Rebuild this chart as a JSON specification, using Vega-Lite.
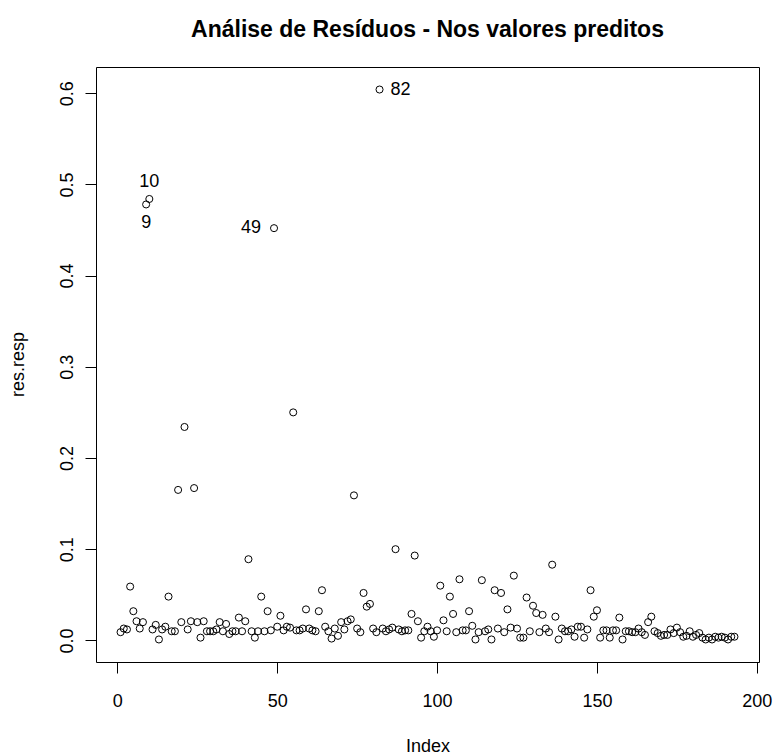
{
  "$schema": "https://vega.github.io/schema/vega-lite/v6.json",
  "width": 663,
  "height": 595,
  "autosize": {"type": "none"},
  "padding": {"left": 96, "top": 67, "right": 14, "bottom": 92},
  "background": "white",
  "title": {
    "text": "Análise de Resíduos - Nos valores preditos",
    "font": "Liberation Sans",
    "fontSize": 23,
    "fontWeight": "bold",
    "color": "black",
    "anchor": "middle",
    "frame": "group",
    "offset": 25
  },
  "config": {
    "view": {"stroke": "black", "strokeWidth": 1},
    "axis": {
      "grid": false,
      "domain": false,
      "tickColor": "black",
      "tickWidth": 1,
      "tickSize": 11,
      "labelFont": "Liberation Sans",
      "labelFontSize": 18,
      "labelColor": "black",
      "titleFont": "Liberation Sans",
      "titleFontSize": 18,
      "titleFontWeight": "normal",
      "titleColor": "black"
    }
  },
  "data": {
    "values": [
      {"idx": 1, "res": 0.009}, {"idx": 2, "res": 0.013}, {"idx": 3, "res": 0.012}, {"idx": 4, "res": 0.059}, {"idx": 5, "res": 0.032},
      {"idx": 6, "res": 0.021}, {"idx": 7, "res": 0.013}, {"idx": 8, "res": 0.020}, {"idx": 9, "res": 0.478}, {"idx": 10, "res": 0.484},
      {"idx": 11, "res": 0.012}, {"idx": 12, "res": 0.017}, {"idx": 13, "res": 0.001}, {"idx": 14, "res": 0.012}, {"idx": 15, "res": 0.015},
      {"idx": 16, "res": 0.048}, {"idx": 17, "res": 0.010}, {"idx": 18, "res": 0.010}, {"idx": 19, "res": 0.165}, {"idx": 20, "res": 0.020},
      {"idx": 21, "res": 0.234}, {"idx": 22, "res": 0.012}, {"idx": 23, "res": 0.021}, {"idx": 24, "res": 0.167}, {"idx": 25, "res": 0.020},
      {"idx": 26, "res": 0.003}, {"idx": 27, "res": 0.021}, {"idx": 28, "res": 0.010}, {"idx": 29, "res": 0.010}, {"idx": 30, "res": 0.010},
      {"idx": 31, "res": 0.012}, {"idx": 32, "res": 0.020}, {"idx": 33, "res": 0.010}, {"idx": 34, "res": 0.018}, {"idx": 35, "res": 0.007},
      {"idx": 36, "res": 0.010}, {"idx": 37, "res": 0.010}, {"idx": 38, "res": 0.025}, {"idx": 39, "res": 0.010}, {"idx": 40, "res": 0.021},
      {"idx": 41, "res": 0.089}, {"idx": 42, "res": 0.010}, {"idx": 43, "res": 0.003}, {"idx": 44, "res": 0.010}, {"idx": 45, "res": 0.048},
      {"idx": 46, "res": 0.010}, {"idx": 47, "res": 0.032}, {"idx": 48, "res": 0.011}, {"idx": 49, "res": 0.452}, {"idx": 50, "res": 0.015},
      {"idx": 51, "res": 0.027}, {"idx": 52, "res": 0.011}, {"idx": 53, "res": 0.015}, {"idx": 54, "res": 0.014}, {"idx": 55, "res": 0.250},
      {"idx": 56, "res": 0.011}, {"idx": 57, "res": 0.011}, {"idx": 58, "res": 0.013}, {"idx": 59, "res": 0.034}, {"idx": 60, "res": 0.013},
      {"idx": 61, "res": 0.011}, {"idx": 62, "res": 0.010}, {"idx": 63, "res": 0.032}, {"idx": 64, "res": 0.055}, {"idx": 65, "res": 0.015},
      {"idx": 66, "res": 0.010}, {"idx": 67, "res": 0.002}, {"idx": 68, "res": 0.013}, {"idx": 69, "res": 0.005}, {"idx": 70, "res": 0.020},
      {"idx": 71, "res": 0.012}, {"idx": 72, "res": 0.021}, {"idx": 73, "res": 0.023}, {"idx": 74, "res": 0.159}, {"idx": 75, "res": 0.013},
      {"idx": 76, "res": 0.009}, {"idx": 77, "res": 0.052}, {"idx": 78, "res": 0.037}, {"idx": 79, "res": 0.040}, {"idx": 80, "res": 0.013},
      {"idx": 81, "res": 0.009}, {"idx": 82, "res": 0.604}, {"idx": 83, "res": 0.013}, {"idx": 84, "res": 0.010}, {"idx": 85, "res": 0.012},
      {"idx": 86, "res": 0.014}, {"idx": 87, "res": 0.100}, {"idx": 88, "res": 0.012}, {"idx": 89, "res": 0.010}, {"idx": 90, "res": 0.011},
      {"idx": 91, "res": 0.011}, {"idx": 92, "res": 0.029}, {"idx": 93, "res": 0.093}, {"idx": 94, "res": 0.021}, {"idx": 95, "res": 0.003},
      {"idx": 96, "res": 0.010}, {"idx": 97, "res": 0.015}, {"idx": 98, "res": 0.010}, {"idx": 99, "res": 0.004}, {"idx": 100, "res": 0.011},
      {"idx": 101, "res": 0.060}, {"idx": 102, "res": 0.022}, {"idx": 103, "res": 0.010}, {"idx": 104, "res": 0.048}, {"idx": 105, "res": 0.029},
      {"idx": 106, "res": 0.009}, {"idx": 107, "res": 0.067}, {"idx": 108, "res": 0.011}, {"idx": 109, "res": 0.011}, {"idx": 110, "res": 0.032},
      {"idx": 111, "res": 0.016}, {"idx": 112, "res": 0.001}, {"idx": 113, "res": 0.009}, {"idx": 114, "res": 0.066}, {"idx": 115, "res": 0.010},
      {"idx": 116, "res": 0.012}, {"idx": 117, "res": 0.001}, {"idx": 118, "res": 0.055}, {"idx": 119, "res": 0.013}, {"idx": 120, "res": 0.052},
      {"idx": 121, "res": 0.009}, {"idx": 122, "res": 0.034}, {"idx": 123, "res": 0.014}, {"idx": 124, "res": 0.071}, {"idx": 125, "res": 0.013},
      {"idx": 126, "res": 0.003}, {"idx": 127, "res": 0.003}, {"idx": 128, "res": 0.047}, {"idx": 129, "res": 0.010}, {"idx": 130, "res": 0.038},
      {"idx": 131, "res": 0.030}, {"idx": 132, "res": 0.009}, {"idx": 133, "res": 0.028}, {"idx": 134, "res": 0.013}, {"idx": 135, "res": 0.009},
      {"idx": 136, "res": 0.083}, {"idx": 137, "res": 0.026}, {"idx": 138, "res": 0.001}, {"idx": 139, "res": 0.013}, {"idx": 140, "res": 0.010},
      {"idx": 141, "res": 0.010}, {"idx": 142, "res": 0.012}, {"idx": 143, "res": 0.004}, {"idx": 144, "res": 0.015}, {"idx": 145, "res": 0.015},
      {"idx": 146, "res": 0.003}, {"idx": 147, "res": 0.012}, {"idx": 148, "res": 0.055}, {"idx": 149, "res": 0.026}, {"idx": 150, "res": 0.033},
      {"idx": 151, "res": 0.003}, {"idx": 152, "res": 0.011}, {"idx": 153, "res": 0.011}, {"idx": 154, "res": 0.003}, {"idx": 155, "res": 0.011},
      {"idx": 156, "res": 0.011}, {"idx": 157, "res": 0.025}, {"idx": 158, "res": 0.001}, {"idx": 159, "res": 0.010}, {"idx": 160, "res": 0.010},
      {"idx": 161, "res": 0.009}, {"idx": 162, "res": 0.009}, {"idx": 163, "res": 0.013}, {"idx": 164, "res": 0.009}, {"idx": 165, "res": 0.006},
      {"idx": 166, "res": 0.020}, {"idx": 167, "res": 0.026}, {"idx": 168, "res": 0.010}, {"idx": 169, "res": 0.008}, {"idx": 170, "res": 0.005},
      {"idx": 171, "res": 0.006}, {"idx": 172, "res": 0.006}, {"idx": 173, "res": 0.012}, {"idx": 174, "res": 0.008}, {"idx": 175, "res": 0.014},
      {"idx": 176, "res": 0.009}, {"idx": 177, "res": 0.004}, {"idx": 178, "res": 0.005}, {"idx": 179, "res": 0.010}, {"idx": 180, "res": 0.004},
      {"idx": 181, "res": 0.006}, {"idx": 182, "res": 0.008}, {"idx": 183, "res": 0.003}, {"idx": 184, "res": 0.001}, {"idx": 185, "res": 0.003},
      {"idx": 186, "res": 0.001}, {"idx": 187, "res": 0.004}, {"idx": 188, "res": 0.003}, {"idx": 189, "res": 0.004}, {"idx": 190, "res": 0.003},
      {"idx": 191, "res": 0.001}, {"idx": 192, "res": 0.004}, {"idx": 193, "res": 0.004}
    ]
  },
  "encoding": {
    "x": {
      "field": "idx",
      "type": "quantitative",
      "scale": {"domain": [-6.68, 200.68], "nice": false, "zero": false},
      "axis": {
        "values": [0, 50, 100, 150, 200],
        "title": "Index",
        "labelPadding": 19,
        "titleY": 75
      }
    },
    "y": {
      "field": "res",
      "type": "quantitative",
      "scale": {"domain": [-0.0237, 0.6287], "nice": false, "zero": false},
      "axis": {
        "values": [0, 0.1, 0.2, 0.3, 0.4, 0.5, 0.6],
        "format": ".1f",
        "title": "res.resp",
        "labelAngle": 270,
        "labelAlign": "center",
        "labelBaseline": "alphabetic",
        "labelPadding": 13,
        "titleAngle": 270,
        "titleAlign": "center",
        "titleBaseline": "alphabetic",
        "titleX": -73,
        "titleY": 297
      }
    }
  },
  "layer": [
    {
      "mark": {"type": "point", "shape": "circle", "filled": false, "stroke": "black", "strokeWidth": 1, "size": 50, "opacity": 1}
    },
    {
      "transform": [{"filter": "datum.idx == 10"}],
      "mark": {"type": "text", "dy": -17, "align": "center", "baseline": "middle", "font": "Liberation Sans", "fontSize": 18, "color": "black"},
      "encoding": {"text": {"field": "idx", "type": "quantitative"}}
    },
    {
      "transform": [{"filter": "datum.idx == 9"}],
      "mark": {"type": "text", "dy": 19, "align": "center", "baseline": "middle", "font": "Liberation Sans", "fontSize": 18, "color": "black"},
      "encoding": {"text": {"field": "idx", "type": "quantitative"}}
    },
    {
      "transform": [{"filter": "datum.idx == 49"}],
      "mark": {"type": "text", "dx": -13, "align": "right", "baseline": "middle", "font": "Liberation Sans", "fontSize": 18, "color": "black"},
      "encoding": {"text": {"field": "idx", "type": "quantitative"}}
    },
    {
      "transform": [{"filter": "datum.idx == 82"}],
      "mark": {"type": "text", "dx": 11, "align": "left", "baseline": "middle", "font": "Liberation Sans", "fontSize": 18, "color": "black"},
      "encoding": {"text": {"field": "idx", "type": "quantitative"}}
    }
  ]
}
